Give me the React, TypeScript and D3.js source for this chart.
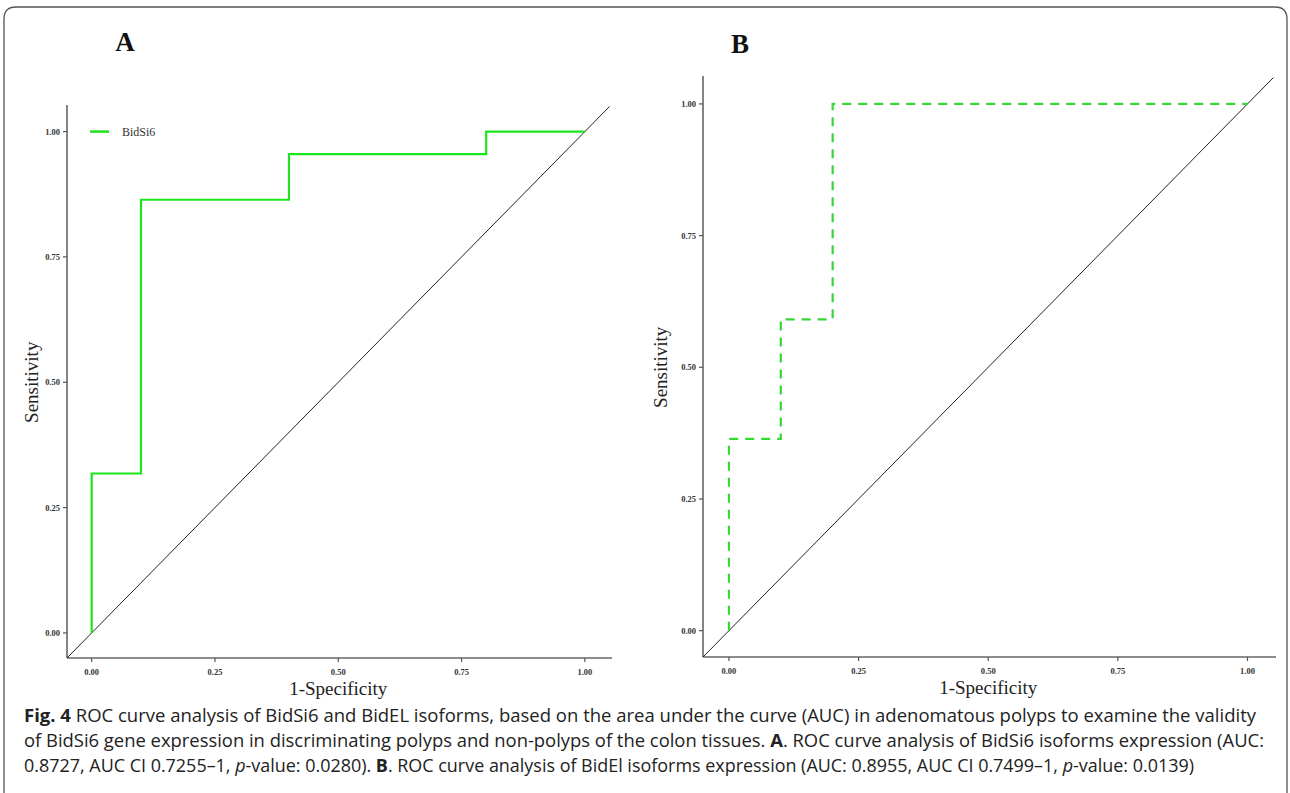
import React from 'react';
import * as d3 from 'd3';

// ROC points (1 - specificity, sensitivity)
const fprA = [0, 0, 0.1, 0.1, 0.4, 0.4, 0.8, 0.8, 1.0];
const tprA = [0, 0.318, 0.318, 0.864, 0.864, 0.955, 0.955, 1.0, 1.0];
const fprB = [0, 0, 0.1, 0.1, 0.2, 0.2, 1.0];
const tprB = [0, 0.364, 0.364, 0.591, 0.591, 1.0, 1.0];
const tickValues = [0, 0.25, 0.5, 0.75, 1.0];
const legendLabel = 'BidSi6';

const serif = '"Liberation Serif", "Times New Roman", serif';
const sans = '"Open Sans", "Noto Sans", sans-serif';

type Panel = {
  label: string;
  labelX: number; labelY: number; yTitleX: number;
  left: number; right: number; top: number; bottom: number;
  fpr: number[]; tpr: number[];
  dashed: boolean;
  color: string;
  legend: boolean;
};

const panels: Panel[] = [
  { label: 'A', labelX: 125, labelY: 51, yTitleX: 38, left: 67, right: 612, top: 105, bottom: 658, fpr: fprA, tpr: tprA, dashed: false, color: '#1de51d', legend: true },
  { label: 'B', labelX: 740, labelY: 53, yTitleX: 667, left: 703, right: 1276, top: 76, bottom: 657, fpr: fprB, tpr: tprB, dashed: true, color: '#35d835', legend: false },
];

function RocPanel({ p }: { p: Panel }) {
  const x = d3.scaleLinear().domain([-0.05, 1.055]).range([p.left, p.right]);
  const y = d3.scaleLinear().domain([-0.05, 1.053]).range([p.bottom, p.top]);
  const pts = p.fpr.map((f, i) => [f, p.tpr[i]] as [number, number]);
  const line = d3.line<[number, number]>().x(d => x(d[0])).y(d => y(d[1]));
  const diag = line([[-0.05, -0.05], [1.05, 1.05]]) || '';
  const cx = (x(0) + x(1)) / 2;
  const cy = (y(0) + y(1)) / 2;

  return (
    <g>
      <text x={p.labelX} y={p.labelY} fontFamily={serif} fontWeight="bold" fontSize={27} fill="#111" textAnchor="middle">{p.label}</text>
      {/* axes */}
      <line x1={p.left} x2={p.left} y1={p.top} y2={p.bottom} stroke="#666" strokeWidth={1.6} />
      <line x1={p.left} x2={p.right} y1={p.bottom} y2={p.bottom} stroke="#666" strokeWidth={1.6} />
      {tickValues.map(t => (
        <g key={'x' + t}>
          <line x1={x(t)} x2={x(t)} y1={p.bottom} y2={p.bottom + 4} stroke="#555" strokeWidth={1.2} />
          <text x={x(t)} y={p.bottom + 17} fontFamily={serif} fontWeight="bold" fontSize={8.5} fill="#333" textAnchor="middle">{t.toFixed(2)}</text>
        </g>
      ))}
      {tickValues.map(t => (
        <g key={'y' + t}>
          <line x1={p.left - 4} x2={p.left} y1={y(t)} y2={y(t)} stroke="#555" strokeWidth={1.2} />
          <text x={p.left - 7} y={y(t) + 3} fontFamily={serif} fontWeight="bold" fontSize={8.5} fill="#333" textAnchor="end">{t.toFixed(2)}</text>
        </g>
      ))}
      <text x={cx} y={p.bottom + 37} fontFamily={serif} fontSize={19} fill="#222" textAnchor="middle">1-Specificity</text>
      <text transform={`translate(${p.yTitleX},${cy}) rotate(-90)`} fontFamily={serif} fontSize={19} fill="#222" textAnchor="middle">Sensitivity</text>
      {/* reference diagonal */}
      <path d={diag} fill="none" stroke="#222" strokeWidth={1} />
      {/* ROC curve */}
      <path d={line(pts) || ''} fill="none" stroke={p.color} strokeWidth={2.2}
        strokeDasharray={p.dashed ? '9,7' : undefined} />
      {p.legend && (
        <g>
          <line x1={p.left + 23} x2={p.left + 42} y1={y(1)} y2={y(1)} stroke={p.color} strokeWidth={2.5} />
          <text x={p.left + 55} y={y(1) + 4} fontFamily={serif} fontSize={12} fill="#333">{legendLabel}</text>
        </g>
      )}
    </g>
  );
}

export default function App() {
  return (
    <svg width={1290} height={793} style={{ position: 'absolute', left: 0, top: 0, background: '#fff' }}>
      <path d="M4,793 L4,19 Q4,7 16,7 L1275,7 Q1287,7 1287,19 L1287,793" fill="none" stroke="#555" strokeWidth={1.3} />
      {panels.map(p => <RocPanel key={p.label} p={p} />)}
      <g fontFamily={sans} fontSize={17.5} fill="#222">
        <text x={24} y={722} textLength={1232} lengthAdjust="spacingAndGlyphs">
          <tspan fontWeight="bold">Fig. 4</tspan>{'  ROC curve analysis of BidSi6 and BidEL isoforms, based on the area under the curve (AUC) in adenomatous polyps to examine the validity'}
        </text>
        <text x={24} y={747} textLength={1240} lengthAdjust="spacingAndGlyphs">
          {'of BidSi6 gene expression in discriminating polyps and non-polyps of the colon tissues. '}<tspan fontWeight="bold">A</tspan>{'. ROC curve analysis of BidSi6 isoforms expression (AUC:'}
        </text>
        <text x={24} y={772} textLength={1170} lengthAdjust="spacingAndGlyphs">
          {'0.8727, AUC CI 0.7255–1, '}<tspan fontStyle="italic">p</tspan>{'-value: 0.0280). '}<tspan fontWeight="bold">B</tspan>{'. ROC curve analysis of BidEl isoforms expression (AUC: 0.8955, AUC CI 0.7499–1, '}<tspan fontStyle="italic">p</tspan>{'-value: 0.0139)'}
        </text>
      </g>
    </svg>
  );
}
